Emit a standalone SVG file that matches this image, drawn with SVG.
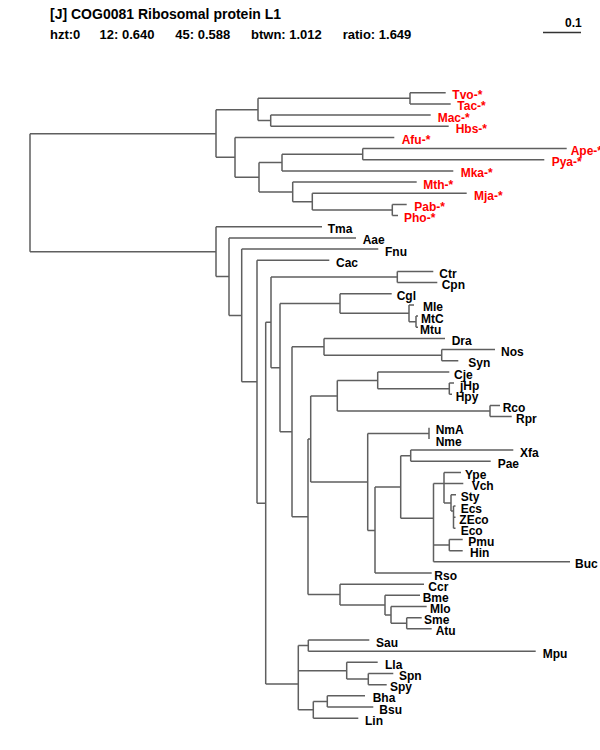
<svg xmlns="http://www.w3.org/2000/svg" width="600" height="750" viewBox="0 0 600 750">
<style>
.t{font-family:"Liberation Sans",Arial,sans-serif;font-weight:bold;font-size:12px;fill:#000}
.r{fill:#ff0000}
.h{font-family:"Liberation Sans",Arial,sans-serif;font-weight:bold;font-size:14px;fill:#000}
.s{font-family:"Liberation Sans",Arial,sans-serif;font-weight:bold;font-size:13px;fill:#000}
.e{fill:none;stroke:#5f5f5f;stroke-width:1.5}
</style>
<rect width="600" height="750" fill="#fff"/>
<g id="header">
<text class="h" x="50" y="19">[J] COG0081 Ribosomal protein L1</text>
<text class="s" x="50" y="39">hzt:0</text>
<text class="s" x="99.6" y="39">12: 0.640</text>
<text class="s" x="175.3" y="39">45: 0.588</text>
<text class="s" x="251" y="39">btwn: 1.012</text>
<text class="s" x="342.7" y="39">ratio: 1.649</text>
</g>
<g id="scalebar">
<text class="t" x="565" y="27">0.1</text>
<path d="M543,32.5H581" fill="none" stroke="#333" stroke-width="1.3"/>
</g>
<g id="connectors" class="e">
<path d="M30,133.7V251.7M30,133.7H216M30,251.7H216"/>
<path d="M216,109.8V157.3M216,109.8H258M216,157.3H235"/>
<path d="M258,98.3V120.6M258,98.3H410M258,120.6H270.7"/>
<path d="M410,92.7V103.9M410,92.7H445.7M410,103.9H450.7"/>
<path d="M270.7,115V126.2M270.7,115H430.7M270.7,126.2H448.7"/>
<path d="M235,137.4V177.2M235,137.4H394.3M235,177.2H259"/>
<path d="M259,162.5V191.9M259,162.5H282M259,191.9H292.7"/>
<path d="M282,154.2V170.9M282,154.2H362.7M282,170.9H453.3"/>
<path d="M362.7,148.6V159.7M362.7,148.6H566.7M362.7,159.7H544.3"/>
<path d="M292.7,182.1V201.7M292.7,182.1H416.7M292.7,201.7H312.3"/>
<path d="M312.3,193.2V210M312.3,193.2H466.7M312.3,210H392.3"/>
<path d="M392.3,204.4V215.6M392.3,204.4H406.7M392.3,215.6H398"/>
<path d="M216,226.7V276.6M216,226.7H322M216,276.6H229"/>
<path d="M229,237.9V315.4M229,237.9H356M229,315.4H241.7"/>
<path d="M241.7,249.1V381.7M241.7,249.1H378.3M241.7,381.7H257"/>
<path d="M257,260.3V503.2M257,260.3H329.3M257,503.2H265.7"/>
<path d="M265.7,322.3V684M265.7,322.3H271M265.7,684H298.3"/>
<path d="M271,277V367.7M271,277H397.3M271,367.7H280"/>
<path d="M397.3,271.4V282.6M397.3,271.4H433.3M397.3,282.6H437.3"/>
<path d="M280,303.5V431.8M280,303.5H340M280,431.8H292"/>
<path d="M340,293.8V313.3M340,293.8H391.7M340,313.3H409"/>
<path d="M409,304.9V321.7M409,304.9H414M409,321.7H416"/>
<path d="M416,316.1V327.3M416,316.1H418M416,327.3H418"/>
<path d="M292,346.8V516.8M292,346.8H324M292,516.8H308"/>
<path d="M324,338.4V355.2M324,338.4H445M324,355.2H441.7"/>
<path d="M441.7,349.6V360.8M441.7,349.6H495M441.7,360.8H458.3"/>
<path d="M308,439V594.6M308,439H310.7M308,594.6H340"/>
<path d="M310.7,395.9V482M310.7,395.9H337.3M310.7,482H367.7"/>
<path d="M337.3,380.4V411M337.3,380.4H377.7M337.3,411H490"/>
<path d="M377.7,372V388.7M377.7,372H449.3M377.7,388.7H449.3"/>
<path d="M449.3,383.1V394.3M449.3,383.1H454M449.3,394.3H452"/>
<path d="M490,405.5V416.6M490,405.5H500M490,416.6H511.7"/>
<path d="M367.7,433.4V530.5M367.7,433.4H429M367.7,530.5H375"/>
<path d="M429,427.8V439"/>
<path d="M375,487V573M375,487H400.7M375,573H431.7"/>
<path d="M400.7,455.7V518.3M400.7,455.7H410.7M400.7,518.3H433.5"/>
<path d="M410.7,450.1V461.3M410.7,450.1H513.3M410.7,461.3H490.7"/>
<path d="M433.5,483.6V561.8M433.5,483.6H463.3M433.5,545.1H449.3M433.5,561.8H570"/>
<path d="M444,472.5V503M444,472.5H461M444,503H451"/>
<path d="M451,494.8V511M451,494.8H456M451,511H453.5"/>
<path d="M453.5,506V528.3M453.5,506H455.5M453.5,517.2H455.5M453.5,528.3H455.5"/>
<path d="M449.3,539.5V550.7M449.3,539.5H462.7M449.3,550.7H462.7"/>
<path d="M340,584.2V605.1M340,584.2H424M340,605.1H385"/>
<path d="M385,595.3V614.9M385,595.3H420M385,614.9H391"/>
<path d="M391,606.5V623.3M391,606.5H426.7M391,623.3H406.7"/>
<path d="M406.7,617.7V628.8M406.7,617.7H421.7M406.7,628.8H431.7"/>
<path d="M298.3,645.6V709.8M298.3,645.6H308.3M298.3,670.7H346.7M298.3,709.8H313.3"/>
<path d="M308.3,640V651.2M308.3,640H369.3M308.3,651.2H535.7"/>
<path d="M346.7,662.3V679.1M346.7,662.3H377.7M346.7,679.1H368.3"/>
<path d="M368.3,673.5V684.7M368.3,673.5H393.3M368.3,684.7H386.7"/>
<path d="M313.3,701.4V718.2M313.3,701.4H327.3M313.3,718.2H358.3"/>
<path d="M327.3,695.8V707M327.3,695.8H365M327.3,707H373.3"/>
</g>
<g id="n-Tvo"><text class="t r" x="452.3" y="99.2">Tvo-*</text></g>
<g id="n-Tac"><text class="t r" x="457.3" y="110.4">Tac-*</text></g>
<g id="n-Mac"><text class="t r" x="437.7" y="121.5">Mac-*</text></g>
<g id="n-Hbs"><text class="t r" x="455.7" y="132.7">Hbs-*</text></g>
<g id="n-Afu"><text class="t r" x="401.7" y="143.9">Afu-*</text></g>
<g id="n-Ape"><text class="t r" x="570.7" y="155.1">Ape-*</text></g>
<g id="n-Pya"><text class="t r" x="551.7" y="166.2">Pya-*</text></g>
<g id="n-Mka"><text class="t r" x="460.7" y="177.4">Mka-*</text></g>
<g id="n-Mth"><text class="t r" x="423.3" y="188.6">Mth-*</text></g>
<g id="n-Mja"><text class="t r" x="474" y="199.7">Mja-*</text></g>
<g id="n-Pab"><text class="t r" x="414.3" y="210.9">Pab-*</text></g>
<g id="n-Pho"><text class="t r" x="404" y="222.1">Pho-*</text></g>
<g id="n-Tma"><text class="t" x="327.7" y="233.2">Tma</text></g>
<g id="n-Aae"><text class="t" x="362.7" y="244.4">Aae</text></g>
<g id="n-Fnu"><text class="t" x="385" y="255.6">Fnu</text></g>
<g id="n-Cac"><text class="t" x="336" y="266.8">Cac</text></g>
<g id="n-Ctr"><text class="t" x="439.3" y="277.9">Ctr</text></g>
<g id="n-Cpn"><text class="t" x="441.7" y="289.1">Cpn</text></g>
<g id="n-Cgl"><text class="t" x="396.7" y="300.3">Cgl</text></g>
<g id="n-Mle"><text class="t" x="423" y="311.4">Mle</text></g>
<g id="n-MtC"><text class="t" x="421" y="322.6">MtC</text></g>
<g id="n-Mtu"><text class="t" x="420" y="333.8">Mtu</text></g>
<g id="n-Dra"><text class="t" x="451.7" y="344.9">Dra</text></g>
<g id="n-Nos"><text class="t" x="501" y="356.1">Nos</text></g>
<g id="n-Syn"><text class="t" x="468.3" y="367.3">Syn</text></g>
<g id="n-Cje"><text class="t" x="454" y="378.5">Cje</text></g>
<g id="n-jHp"><text class="t" x="460" y="389.6">jHp</text></g>
<g id="n-Hpy"><text class="t" x="455.7" y="400.8">Hpy</text></g>
<g id="n-Rco"><text class="t" x="502.7" y="412">Rco</text></g>
<g id="n-Rpr"><text class="t" x="516" y="423.1">Rpr</text></g>
<g id="n-NmA"><text class="t" x="435.7" y="434.3">NmA</text></g>
<g id="n-Nme"><text class="t" x="435.7" y="445.5">Nme</text></g>
<g id="n-Xfa"><text class="t" x="520" y="456.6">Xfa</text></g>
<g id="n-Pae"><text class="t" x="497.7" y="467.8">Pae</text></g>
<g id="n-Ype"><text class="t" x="465" y="479">Ype</text></g>
<g id="n-Vch"><text class="t" x="471.7" y="490.1">Vch</text></g>
<g id="n-Sty"><text class="t" x="460.7" y="501.3">Sty</text></g>
<g id="n-Ecs"><text class="t" x="460.7" y="512.5">Ecs</text></g>
<g id="n-ZEco"><text class="t" x="459.3" y="523.7">ZEco</text></g>
<g id="n-Eco"><text class="t" x="460.7" y="534.8">Eco</text></g>
<g id="n-Pmu"><text class="t" x="468.3" y="546">Pmu</text></g>
<g id="n-Hin"><text class="t" x="470" y="557.2">Hin</text></g>
<g id="n-Buc"><text class="t" x="575" y="568.3">Buc</text></g>
<g id="n-Rso"><text class="t" x="434.3" y="579.5">Rso</text></g>
<g id="n-Ccr"><text class="t" x="428.3" y="590.7">Ccr</text></g>
<g id="n-Bme"><text class="t" x="422.7" y="601.8">Bme</text></g>
<g id="n-Mlo"><text class="t" x="430" y="613">Mlo</text></g>
<g id="n-Sme"><text class="t" x="424" y="624.2">Sme</text></g>
<g id="n-Atu"><text class="t" x="435.7" y="635.3">Atu</text></g>
<g id="n-Sau"><text class="t" x="376" y="646.5">Sau</text></g>
<g id="n-Mpu"><text class="t" x="542.7" y="657.7">Mpu</text></g>
<g id="n-Lla"><text class="t" x="385" y="668.8">Lla</text></g>
<g id="n-Spn"><text class="t" x="399" y="680">Spn</text></g>
<g id="n-Spy"><text class="t" x="390" y="691.2">Spy</text></g>
<g id="n-Bha"><text class="t" x="372.7" y="702.3">Bha</text></g>
<g id="n-Bsu"><text class="t" x="379.3" y="713.5">Bsu</text></g>
<g id="n-Lin"><text class="t" x="365" y="724.7">Lin</text></g>
</svg>
